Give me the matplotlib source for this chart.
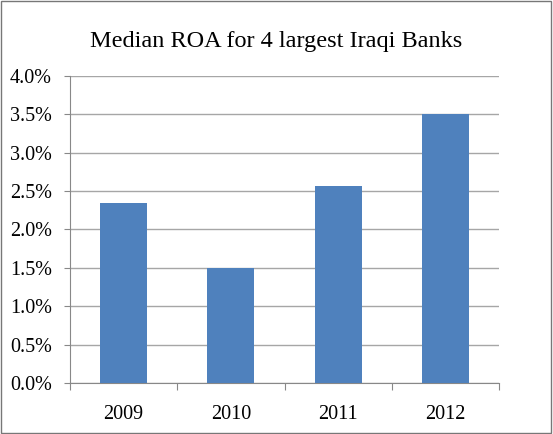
import matplotlib
matplotlib.use("Agg")
import matplotlib.pyplot as plt
from matplotlib.patches import Rectangle
from matplotlib.ticker import FuncFormatter, MultipleLocator

years = ["2009", "2010", "2011", "2012"]
roa = [2.35, 1.50, 2.57, 3.50]

plt.rcParams['font.family'] = ['Liberation Serif', 'DejaVu Serif']

fig = plt.figure(figsize=(5.53, 4.34), dpi=100)
ax = fig.add_axes([0.1266, 0.1175, 0.7758, 0.7074])

x = list(range(len(years)))
ax.bar(x, roa, width=0.44, color="#4F81BD", zorder=3)

ax.set_xlim(-0.5, len(years) - 0.5)
ax.set_ylim(0, 4.0)
ax.yaxis.set_major_locator(MultipleLocator(0.5))
ax.yaxis.set_major_formatter(FuncFormatter(lambda v, p: "%.1f%%" % v))
ax.grid(axis="y", color="#A6A6A6", linewidth=1.0, zorder=0)

# category labels centred, tick marks on the boundaries
ax.set_xticks([i - 0.5 for i in range(len(years) + 1)])
ax.set_xticklabels([])
ax.set_xticks(x, minor=True)
ax.set_xticklabels(years, minor=True)
ax.tick_params(axis="x", which="minor", length=0, pad=16, labelsize=14.5)
ax.tick_params(axis="x", which="major", length=5, color="#888888", direction="out")
ax.tick_params(axis="y", length=4, color="#888888", direction="out", labelsize=14.5, pad=9)

for side in ["top", "right"]:
    ax.spines[side].set_visible(False)
ax.spines["left"].set_color("#888888")
ax.spines["bottom"].set_color("#888888")

fig.text(0.5, 0.905, "Median ROA for 4 largest Iraqi Banks", ha="center", va="center", fontsize=17.5)

fig.patches.append(Rectangle((0.002, 0.003), 0.995, 0.994, transform=fig.transFigure,
                             fill=False, edgecolor="#777777", linewidth=1.0))

fig.savefig("out.png", dpi=100)
